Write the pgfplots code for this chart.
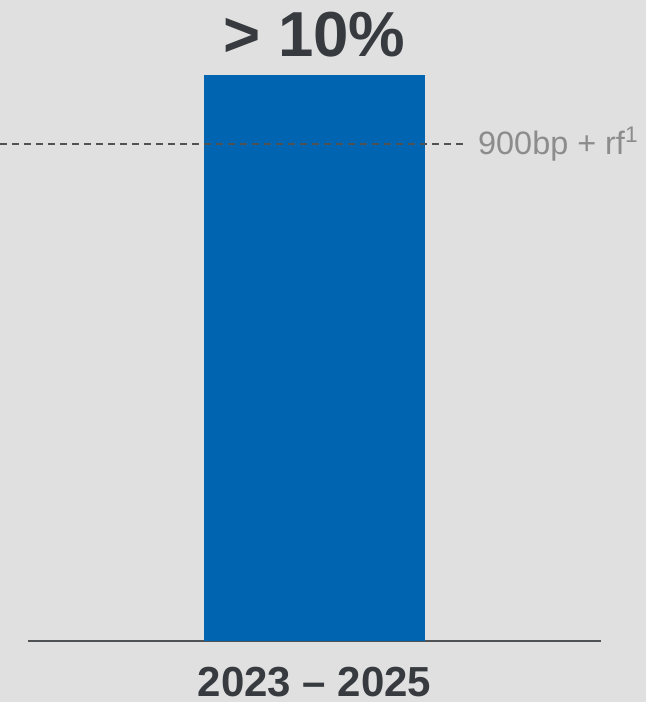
\documentclass[border=0pt]{standalone}
\usepackage{fontspec}
\setmainfont{Liberation Sans}
\usepackage{pgfplots}
\pgfplotsset{compat=1.18}

\definecolor{bg}{HTML}{E0E0E0}
\definecolor{barblue}{HTML}{0064B0}
\definecolor{darktext}{HTML}{373B3F}
\definecolor{refgray}{HTML}{8C8C8C}
\definecolor{axisgray}{HTML}{505355}

\begin{document}
\begin{tikzpicture}
% background, 646x702 px at 0.5pt per px
\fill[bg] (0,0) rectangle (323pt,351pt);
\useasboundingbox (0,0) rectangle (323pt,351pt);
\begin{axis}[
  at={(14pt,30.5pt)}, anchor=south west,
  scale only axis,
  width=286.5pt, height=283pt,
  xmin=0, xmax=1, ymin=0, ymax=10,
  clip=false,
  hide y axis,
  axis x line*=bottom,
  axis line style={axisgray, line width=1pt, -},
  xtick={0.5},
  xticklabels={2023 – 2025},
  major tick length=0pt,
  xticklabel style={anchor=base, yshift=-27.5pt, font=\fontsize{21}{21}\selectfont\bfseries, text=darktext},
]
\addplot[ybar, bar width=110.5pt, fill=barblue, draw=none] coordinates {(0.5,10)};
\draw[axisgray, line width=0.7pt, dash pattern=on 3.5pt off 2.5pt]
  (axis cs:-0.0489,8.78) -- (axis cs:0.7627,8.78);
\node[anchor=west, inner sep=0pt, text=refgray, font=\fontsize{16.2}{16.2}\selectfont]
  at (axis cs:0.785,8.78) {900bp + rf\textsuperscript{1}};
\node[anchor=base, inner sep=0pt, yshift=9pt, text=darktext, font=\fontsize{31.8}{31.8}\selectfont\bfseries]
  at (axis cs:0.5,10) {> 10\%};
\end{axis}
\end{tikzpicture}
\end{document}
